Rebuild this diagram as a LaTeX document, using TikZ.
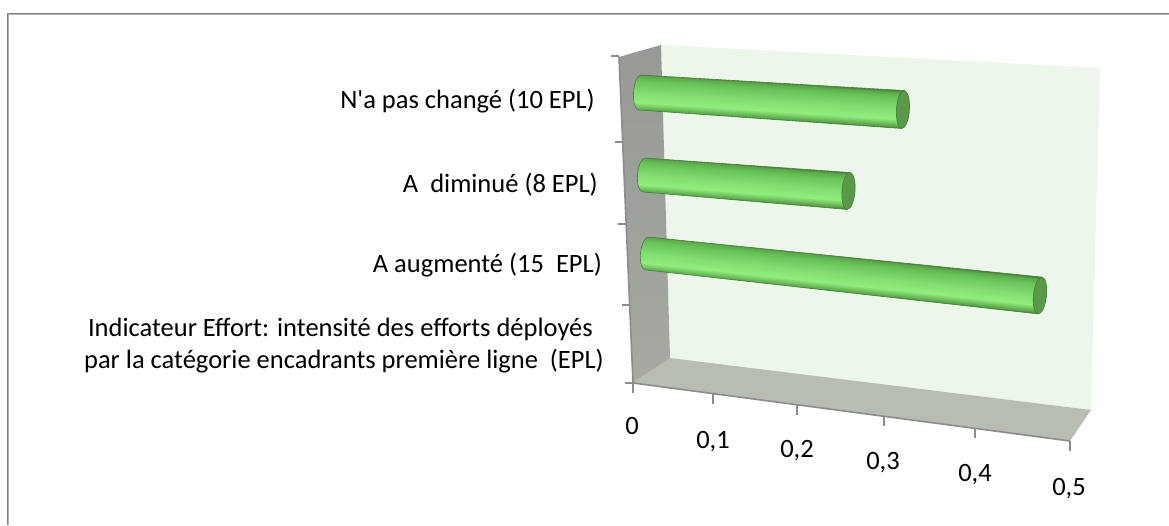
\documentclass[tikz,border=0pt]{standalone}
\usepackage{fontspec}
\setmainfont{Carlito}
\usetikzlibrary{calc}

% palette
\definecolor{frameDark}{RGB}{128,128,128}
\definecolor{frameLight}{RGB}{178,178,178}
\definecolor{wallBack}{RGB}{237,246,234}
\definecolor{wallSideTop}{RGB}{150,153,148}
\definecolor{wallSideBot}{RGB}{166,170,163}
\definecolor{floorCol}{RGB}{183,189,178}
\definecolor{axisCol}{RGB}{140,140,140}
\definecolor{gEdge}{RGB}{68,128,54}
\definecolor{gBot}{RGB}{92,168,76}
\definecolor{gHi}{RGB}{146,236,126}
\definecolor{gLight}{RGB}{130,222,112}
\definecolor{gTop}{RGB}{104,194,88}
\definecolor{gCap}{RGB}{90,152,74}
\definecolor{gCapRim}{RGB}{68,124,54}

% cylinder body shading, bottom to top
\pgfdeclareverticalshading{barcyl}{100bp}{
  color(0bp)=(gEdge); color(25bp)=(gEdge); color(28bp)=(gBot);
  color(37bp)=(gHi); color(50bp)=(gLight); color(66bp)=(gTop);
  color(72bp)=(gBot); color(75bp)=(gEdge); color(100bp)=(gEdge)}

\tikzset{
  lbl/.style={inner sep=0pt, font=\fontsize{26.5}{32}\selectfont},
  catlbl/.style={lbl, anchor=base east},
  numlbl/.style={lbl, anchor=base},
  axisline/.style={draw=axisCol, line width=1.6pt},
}

% \cylbar{left x}{left y}{angle}{length}{left half-height}{right half-height}
\newcommand{\cylbar}[6]{%
  \begin{scope}[transform canvas={shift={(#1,#2)}, rotate=#3}]
    \shade[shading=barcyl, draw=gEdge, line width=0.6pt]
      (0,-#5) arc[start angle=270, end angle=90, x radius=6.5, y radius=#5]
      -- (#4,#6) -- (#4,-#6) -- cycle;
    \fill[gCap] (#4,0) ellipse[x radius=6.5, y radius=#6];
    \draw[gCapRim, line width=0.6pt] (#4,0) ellipse[x radius=6.5, y radius=#6];
  \end{scope}}

\begin{document}
\begin{tikzpicture}[x=1pt, y=1pt]
  \useasboundingbox (0,0) rectangle (1169,525);
  \fill[white] (0,0) rectangle (1169,525);

  % chart area frame
  \draw[frameDark, line width=1.3pt] (7.3,0) -- (7.3,511.7) -- (1169,511.7);
  \draw[frameLight, line width=1.3pt] (8.6,0) -- (8.6,510.4) -- (1169,510.4);

  % walls and floor
  \coordinate (bwTL) at (661,480);
  \coordinate (bwTR) at (1100,457);
  \coordinate (bwBR) at (1091,115);
  \coordinate (bwBL) at (670,167);
  \coordinate (swTF) at (619,468);
  \coordinate (swBF) at (633,142);
  \coordinate (flFR) at (1070,84);

  \fill[wallBack] (bwTL) -- (bwTR) -- (bwBR) -- (bwBL) -- cycle;
  \shade[top color=wallSideTop, bottom color=wallSideBot]
    (swTF) -- (bwTL) -- (bwBL) -- (swBF) -- cycle;
  \fill[floorCol] (swBF) -- (bwBL) -- (bwBR) -- (flFR) -- cycle;

  % axes
  \draw[axisline] (swTF) -- (swBF);
  \draw[axisline] (swBF) -- (flFR);
  \foreach \y in {469,383,301,220,142} {
    \pgfmathsetmacro{\xx}{619+(468-\y)/326*14}
    \draw[axisline] (\xx,\y) -- (\xx-8,\y);
  }
  \foreach \x in {633,713,797,884,975,1070} {
    \pgfmathsetmacro{\yy}{142-(\x-633)/437*58}
    \draw[axisline] (\x,\yy) -- (\x,\yy-10);
  }

  % bars
  \cylbar{640}{432.5}{-3.70}{263.5}{17.5}{19}
  \cylbar{644}{350}{-4.47}{205.1}{17}{18.5}
  \cylbar{647}{271.5}{-6.10}{395.2}{16.5}{18.5}

  % category labels
  \node[catlbl] (c1) at (595,416) {N\textquotesingle a pas changé (10 EPL)};
  \node[catlbl] (c2) at (598,332) {A\ \ diminué (8 EPL)};
  \node[catlbl] (c3) at (602,252) {A augmenté (15\ \ EPL)};
  \node[catlbl] (c4a) at (593,188) {Indicateur Effort: intensité des efforts déployés};
  \node[catlbl] (c4b) at (604,157) {par la catégorie encadrants première ligne\ \ (EPL)};

  % value labels
  \node[numlbl] (v0) at (632,91) {0};
  \node[numlbl] (v1) at (713,77) {0,1};
  \node[numlbl] (v2) at (797,68) {0,2};
  \node[numlbl] (v3) at (883,56) {0,3};
  \node[numlbl] (v4) at (975,44) {0,4};
  \node[numlbl] (v5) at (1069,30) {0,5};
\end{tikzpicture}
\end{document}
